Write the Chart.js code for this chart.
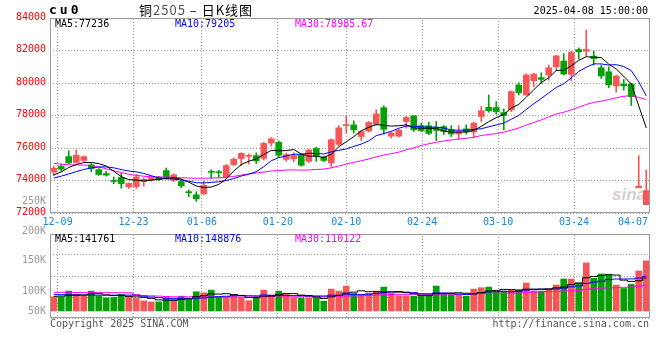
<!DOCTYPE html>
<html><head><meta charset="utf-8">
<script src="https://cdn.jsdelivr.net/npm/chart.js@4.4.1/dist/chart.umd.min.js"></script>
<style>
html,body{margin:0;padding:0;background:#fff;}
#wrap{position:relative;width:660px;height:360px;overflow:hidden;font-family:"DejaVu Sans Mono",monospace;background:#fff;}
canvas{position:absolute;left:0;}
.t{position:absolute;white-space:pre;font-size:10px;line-height:12px;font-family:"DejaVu Sans Mono",monospace;}
</style></head><body>
<div id="wrap">
<div class="t" style="left:612px;top:186px;font-size:17px;line-height:18px;font-weight:bold;font-style:italic;font-family:'Liberation Sans',sans-serif;color:#d6cfcf;">sina</div>
<canvas id="pc" width="660" height="228" style="top:0"></canvas>
<canvas id="vc" width="660" height="112" style="top:228px"></canvas>
<div class="t" style="left:49px;top:3px;font-size:13px;line-height:14px;font-weight:bold;letter-spacing:3px;">cu0</div>
<div class="t" style="left:139px;top:2px;font-size:13px;line-height:15px;letter-spacing:1px;font-family:'Noto Sans CJK SC',sans-serif;">铜<span style="color:#555">2505</span> – 日K线图</div>
<div class="t" style="right:12px;top:5px;">2025-04-08 15:00:00</div>
<div class="t" style="left:55px;top:18px;color:#000">MA5:77236</div>
<div class="t" style="left:175px;top:18px;color:#0000ff">MA10:79205</div>
<div class="t" style="left:295px;top:18px;color:#ff00ff">MA30:78985.67</div>
<div class="t" style="left:55px;top:233px;color:#000">MA5:141761</div>
<div class="t" style="left:175px;top:233px;color:#0000ff">MA10:148876</div>
<div class="t" style="left:295px;top:233px;color:#ff00ff">MA30:110122</div>
<div id="vl"></div>
<div class="t" style="left:50px;top:318px;color:#555">Copyright 2025 SINA.COM</div>
<div class="t" style="right:11px;top:318px;color:#555">http://finance.sina.com.cn</div>
</div>
<script>
const dates = ['12-06','12-09','12-10','12-11','12-12','12-13','12-16','12-17','12-18','12-19','12-20','12-23','12-24','12-25','12-26','12-27','12-30','12-31','01-02','01-03','01-06','01-07','01-08','01-09','01-10','01-13','01-14','01-15','01-16','01-17','01-20','01-21','01-22','01-23','01-24','01-27','02-05','02-06','02-07','02-10','02-11','02-12','02-13','02-14','02-17','02-18','02-19','02-20','02-21','02-24','02-25','02-26','02-27','02-28','03-03','03-04','03-05','03-06','03-07','03-10','03-11','03-12','03-13','03-14','03-17','03-18','03-19','03-20','03-21','03-24','03-25','03-26','03-27','03-28','03-31','04-01','04-02','04-03','04-07','04-08'];
const open  = [74530,74880,75470,75110,75230,74960,74670,74430,73980,74190,73610,73630,73940,74010,74200,74610,74000,73940,73290,73120,73180,74530,74510,74230,74980,75350,75490,75530,75360,76310,76350,75300,75340,75590,75180,75970,75440,75080,76220,77380,77420,76710,77040,77460,78480,76730,76730,77630,77980,77370,77370,77265,77310,77120,76860,77180,76980,77940,78510,78490,78180,78350,79880,79260,80140,80330,80490,81000,81350,80530,82060,81960,81650,80940,80690,79820,79940,79940,73550,72510];
const high  = [74880,75020,75830,75880,75510,75040,74730,74570,74220,74450,73860,74370,74160,74220,74260,74770,74420,74020,73430,73300,73950,74660,74630,74980,75390,75710,75640,75700,76350,76640,76430,75690,75700,75630,75930,76060,75490,76560,77380,77990,77670,77040,77630,78350,78600,76990,77160,77940,77990,77530,77590,77630,77390,77370,77370,77430,77590,78550,79260,78860,78410,79510,80020,80570,80590,80630,81100,81710,81810,81960,82160,83270,81980,81100,81000,80490,80220,79980,75530,74650];
const low   = [74300,74570,75040,75060,75180,74530,74310,74270,73800,73530,73510,73510,73650,73960,74000,74100,73940,73560,73000,72720,73120,74120,74180,74160,74920,74900,75000,75030,75260,76120,75440,75180,75150,74880,75100,75180,75150,74830,76140,76920,76920,76460,76980,77400,76850,76610,76670,77220,77020,77020,76820,76450,76820,76710,76530,76860,76610,77630,78200,78080,77120,78240,79260,79260,79770,79980,80180,80790,80490,80120,81470,81630,81100,80280,79710,79430,79570,78610,73550,72510];
const close = [74750,74690,75080,75550,75470,74740,74370,74330,73940,73810,73820,74220,74070,74180,74060,74160,74350,73670,73250,72870,73700,74500,74480,74920,75310,75670,75540,75210,76280,76570,75550,75590,75530,74940,75880,75520,75230,76510,77240,77420,77120,77010,77570,78100,77150,76920,77100,77880,77120,77060,76900,77080,77020,76860,77020,76980,77530,78290,78290,78240,78000,79470,79410,80490,80550,80220,80940,81670,80550,81880,81920,82060,81510,80430,79880,80430,79820,79160,73650,73380];
// volume in thousands (K)
const volume = [60.8,60.8,85.3,72.3,65.1,85.3,65.1,56.4,57.9,70.9,63.6,53.5,43.4,39.0,39.0,56.4,50.6,63.6,52.0,82.4,78.0,89.6,60.8,60.0,65.1,58.0,44.0,60.0,89.6,68.0,85.3,72.3,57.9,56.4,56.4,56.4,42.0,94.0,85.3,107.0,75.4,70.9,75.4,85.3,102.6,75.4,65.1,65.1,63.6,63.6,72.3,107.0,70.9,70.9,68.0,63.6,94.0,99.9,102.6,82.4,85.3,89.6,89.6,120.0,85.3,85.3,94.0,111.3,137.3,137.3,120.0,206.6,140.2,159.0,154.7,111.3,96.9,114.2,171.9,215.2];
const ma5  = [74350,74530,74800,74980,75108,75106,75042,74892,74570,74238,74054,74024,73972,74020,74070,74138,74164,74084,73898,73660,73568,73598,73760,74094,74582,74976,75184,75330,75602,75854,75830,75840,75904,75636,75498,75492,75420,75616,76076,76384,76704,77060,77272,77444,77390,77350,77368,77430,77234,77216,77212,77208,77036,76984,76976,76992,77082,77336,77622,77866,78070,78458,78682,79122,79584,80028,80322,80774,80786,81052,81392,81616,81584,81560,81160,80862,80414,79944,78588,77236];
const ma10 = [74150,74270,74400,74550,74680,74770,74830,74840,74780,74673,74580,74533,74432,74295,74154,74096,74094,74028,73959,73865,73853,73881,73922,73996,74121,74272,74391,74545,74848,75218,75403,75512,75617,75619,75676,75661,75630,75760,75856,75941,76098,76240,76444,76760,76887,77027,77214,77351,77339,77303,77281,77288,77233,77109,77096,77102,77145,77186,77303,77421,77531,77770,78009,78372,78725,79049,79390,79728,79954,80318,80710,80969,81179,81173,81106,81127,81015,80764,80074,79205];
const ma30 = [75060,75000,74970,74960,74950,74930,74830,74720,74600,74500,74380,74320,74260,74230,74220,74210,74190,74170,74150,74140,74140,74150,74160,74200,74250,74330,74400,74460,74520,74585,74612,74642,74657,74637,74650,74676,74705,74778,74888,75008,75118,75211,75328,75458,75561,75653,75745,75885,76014,76154,76261,76347,76431,76496,76553,76597,76663,76766,76833,76888,76970,77099,77229,77414,77569,77726,77916,78088,78199,78347,78507,78676,78807,78885,78976,79093,79183,79226,79110,78986];
const vma5  = [63,64,66,68,68.9,73.8,74.6,68.8,66.0,67.1,62.8,60.5,57.9,54.1,47.7,46.3,45.7,49.7,52.3,61.0,65.3,73.1,72.6,74.2,70.7,66.7,57.6,57.4,63.3,63.9,69.4,75.0,74.6,68.0,65.7,59.9,53.8,61.0,66.8,76.9,80.7,86.5,82.8,82.8,81.9,81.9,80.8,78.7,74.4,66.6,65.9,74.3,75.5,76.9,77.8,76.1,73.5,79.3,85.6,88.5,92.8,92.0,89.9,93.4,94.0,94.0,94.8,99.2,102.6,113.0,120.0,142.5,148.3,152.6,156.1,154.4,132.4,127.2,129.8,141.761];
const vma10 = [71,70,69,69,68,68,68,68,68,68.0,68.3,67.5,63.4,60.0,57.4,54.5,53.1,53.8,53.2,54.4,55.8,59.4,61.1,63.2,65.9,66.0,65.4,65.0,68.8,67.3,68.0,66.3,66.0,65.7,64.8,64.6,64.4,67.8,67.4,71.3,70.3,70.2,71.9,74.8,79.4,81.3,83.6,80.8,78.6,74.2,73.9,77.5,77.1,75.7,72.2,71.0,73.9,77.4,81.3,83.2,84.5,82.7,84.6,89.5,91.2,93.4,93.4,94.5,98.0,103.5,107.0,118.7,123.7,127.6,134.6,137.2,137.5,137.8,141.2,148.876];
const vma30 = [80,80,80,79.5,79.5,79,79,79,78.5,78.5,78,70,66,65,64,62,61,61,61,60.5,60.5,60.5,60.5,60,60,60,60.5,61,62,63.2,64.0,64.4,63.5,63.0,62.7,61.7,60.9,62.2,63.1,64.3,64.7,65.3,66.4,67.9,70.0,70.7,71.1,71.2,71.6,70.9,70.8,71.3,71.7,72.0,72.1,72.3,74.0,75.3,75.8,76.2,76.2,76.8,77.9,80.0,81.0,81.9,83.6,84.2,86.0,87.0,88.5,93.0,95.1,97.6,99.3,100.5,101.6,103.2,106.8,110.122];
const tickLabels = ['12-09','12-23','01-06','01-20','02-10','02-24','03-10','03-24','04-07'];
const priceMin = 72000, priceMax = 84000, priceStep = 2000;
const volMin = -30.3, volMax = 330.8;
const volAxisLabels = ['250K','200K','150K','100K','50K'];
const volAxisLabelTops = [195, 225, 254, 285, 305];

const UP = '#f65656', DOWN = '#05a005';
const DATE_COLOR = '#1787e0';
const FONT = {family: '"DejaVu Sans Mono", monospace', size: 10};
const dirColor = i => close[i] >= open[i] ? UP : DOWN;
const tickIdx = tickLabels.map(t => dates.indexOf(t));
const last = dates.length - 1;

// dotted grid: 3x3 tile with diagonal dots -> 1 on / 2 off along rows and columns
function dotPattern() {
  const c = document.createElement('canvas');
  c.width = 3; c.height = 3;
  const g = c.getContext('2d');
  g.fillStyle = '#9a9a9a';
  for (let k = 0; k < 3; k++) g.fillRect(k, k, 1, 1);
  return g.createPattern(c, 'repeat');
}

const vl = document.getElementById('vl');
volAxisLabels.forEach((t, k) => {
  const d = document.createElement('div');
  d.className = 't';
  d.style.cssText = 'right:614px;top:' + volAxisLabelTops[k] + 'px;color:#9a9a9a;';
  d.textContent = t;
  vl.appendChild(d);
});

const framePlugin = {
  id: 'frame',
  afterLayout(chart) {
    const s = chart.scales.xe;
    if (s) s.bottom = s.top + 15;
  },
  afterDraw(chart) {
    const {ctx, chartArea: a} = chart;
    ctx.save();
    ctx.strokeStyle = '#9c9c9c';
    ctx.lineWidth = 1;
    const l = Math.round(a.left) + 0.5, t = Math.round(a.top) + 0.5;
    const r = Math.round(a.right) - 0.5, b = Math.round(a.bottom) - 0.5;
    ctx.strokeRect(l, t, r - l, b - t);
    ctx.restore();
  }
};

function lineDs(data, color, stepped) {
  return {type: 'line', data, xAxisID: 'x', borderColor: color, borderWidth: 1, pointRadius: 0,
    tension: 0, fill: false, order: 0, stepped: stepped || false};
}

const DOTS = dotPattern();
function gridOpts() { return {display: true, drawOnChartArea: true, color: DOTS, drawTicks: false, offset: false, lineWidth: 1}; }
function borderOpts() { return {display: false}; }

new Chart(document.getElementById('pc'), {
  type: 'bar',
  data: {
    labels: dates,
    datasets: [
      lineDs(ma5, '#000000'),
      lineDs(ma10, '#0000ff'),
      lineDs(ma30, '#ff00ff'),
      {type: 'bar', xAxisID: 'x', data: dates.map((d, i) => [open[i], close[i]]),
        backgroundColor: c => dirColor(c.dataIndex), barThickness: 6, minBarLength: 1,
        grouped: false, borderWidth: 0, order: 1},
      {type: 'bar', xAxisID: 'x', data: dates.map((d, i) => [low[i], high[i]]),
        backgroundColor: c => dirColor(c.dataIndex), barThickness: 1, minBarLength: 1,
        grouped: false, borderWidth: 0, order: 2}
    ]
  },
  options: {
    responsive: false, animation: false, events: [],
    layout: {padding: {left: 0, top: 18, right: 10, bottom: 0}},
    plugins: {legend: {display: false}, tooltip: {enabled: false}},
    scales: {
      x: {type: 'category', display: false, offset: true, grid: {display: false}},
      xe: {type: 'linear', position: 'bottom', min: 0, max: last, weight: 0, offset: false,
        grid: {display: false, drawTicks: false, offset: false}, border: {display: false},
        afterFit: s => { s.height = 0; },
        afterBuildTicks: s => { s.ticks = [{value: s.max}]; },
        ticks: {autoSkip: false, align: 'end', padding: 3, labelOffset: -2, maxRotation: 0,
          color: DATE_COLOR, font: FONT, callback: () => tickLabels[tickLabels.length - 1]}},
      xg: {type: 'linear', position: 'bottom', min: 0, max: last, weight: 1, offset: false,
        grid: gridOpts(), border: borderOpts(),
        afterFit: s => { s.height = 15; },
        afterBuildTicks: s => { s.ticks = tickIdx.slice(0, -1).map(v => ({value: v})); },
        ticks: {autoSkip: false, padding: 3, maxRotation: 0, color: DATE_COLOR, font: FONT,
          callback: v => dates[v]}},
      y: {min: priceMin, max: priceMax,
        ticks: {stepSize: priceStep, color: '#ff0000', font: FONT, padding: 4, labelOffset: -1,
          callback: v => String(v)},
        grid: gridOpts(), border: borderOpts(),
        afterFit: s => { s.width = 50; }}
    }
  },
  plugins: [framePlugin]
});

new Chart(document.getElementById('vc'), {
  type: 'bar',
  data: {
    labels: dates,
    datasets: [
      lineDs(vma5, '#000000', 'middle'),
      lineDs(vma10, '#0000ff', 'middle'),
      lineDs(vma30, '#ff00ff', 'middle'),
      {type: 'bar', xAxisID: 'x', data: volume, backgroundColor: c => dirColor(c.dataIndex),
        barThickness: 6, grouped: false, borderWidth: 0, order: 1}
    ]
  },
  options: {
    responsive: false, animation: false, events: [],
    layout: {padding: {left: 0, top: 6, right: 10, bottom: 22}},
    plugins: {legend: {display: false}, tooltip: {enabled: false}},
    scales: {
      x: {type: 'category', display: false, offset: true, grid: {display: false}},
      xg: {type: 'linear', position: 'bottom', min: 0, max: last, offset: false,
        grid: gridOpts(), border: borderOpts(),
        afterFit: s => { s.height = 0; },
        afterBuildTicks: s => { s.ticks = tickIdx.slice(0, -1).map(v => ({value: v})); },
        ticks: {display: false}},
      y: {min: volMin, max: volMax, beginAtZero: false,
        afterBuildTicks: s => { s.ticks = [0, 1, 2, 3, 4].map(k => ({value: volMin + k * (volMax - volMin) / 4})); },
        ticks: {display: false},
        grid: gridOpts(), border: borderOpts(),
        afterFit: s => { s.width = 50; }}
    }
  },
  plugins: [framePlugin]
});
</script>
</body></html>
